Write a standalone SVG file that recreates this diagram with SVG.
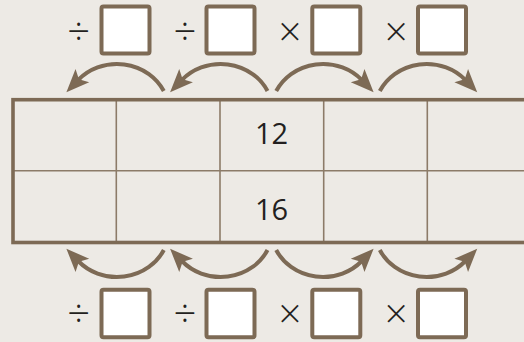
<svg xmlns="http://www.w3.org/2000/svg" width="524" height="342" viewBox="0 0 524 342">
<defs>
<style>
.box{fill:#ffffff;stroke:#7d6a55;stroke-width:4}
.op{font-family:"Open Sans","DejaVu Sans",sans-serif;font-size:40px;font-weight:300;fill:#231f20;text-anchor:middle}
.num{font-family:"Open Sans","DejaVu Sans",sans-serif;font-size:29px;fill:#231f20;text-anchor:middle}
.grid{stroke:#8c7b68;stroke-width:1.6;fill:none}
.frame{stroke:#7d6a55;stroke-width:3.6;fill:none}
.arc{stroke:#7d6a55;stroke-width:4;fill:none;marker-end:url(#ah)}
</style>
<marker id="ah" markerUnits="userSpaceOnUse" markerWidth="30" markerHeight="30" refX="0" refY="0" orient="auto" overflow="visible">
<path d="M17,0 L-6,-9.5 L-1,0 L-6,9.5 Z" fill="#7d6a55"/>
</marker>
</defs>
<rect x="0" y="0" width="524" height="342" fill="#edeae5"/>

<g id="table">
<line class="grid" x1="116.3" y1="99.7" x2="116.3" y2="242.5"/>
<line class="grid" x1="220" y1="99.7" x2="220" y2="242.5"/>
<line class="grid" x1="323.7" y1="99.7" x2="323.7" y2="242.5"/>
<line class="grid" x1="427.3" y1="99.7" x2="427.3" y2="242.5"/>
<line class="grid" x1="13" y1="170.7" x2="540" y2="170.7"/>
<rect class="frame" x="13" y="99.7" width="540" height="142.8"/>
<text class="num" x="271.5" y="144.3">12</text>
<text class="num" x="271.5" y="220">16</text>
</g>

<g id="top-div1"><text class="op" x="78.6" y="45.5">÷</text><rect class="box" x="101.5" y="6.5" width="48" height="47" rx="2"/></g>
<g id="top-div2"><text class="op" x="185" y="45.5">÷</text><rect class="box" x="206.5" y="6.5" width="48" height="47" rx="2"/></g>
<g id="top-mul1"><text class="op" x="289.8" y="45.5">×</text><rect class="box" x="312.3" y="6.5" width="48" height="47" rx="2"/></g>
<g id="top-mul2"><text class="op" x="396.2" y="45.5">×</text><rect class="box" x="418" y="6.5" width="48" height="47" rx="2"/></g>

<g id="bot-div1"><text class="op" x="78.6" y="327.8">÷</text><rect class="box" x="101.5" y="289.7" width="48" height="47.6" rx="2"/></g>
<g id="bot-div2"><text class="op" x="185" y="327.8">÷</text><rect class="box" x="206.5" y="289.7" width="48" height="47.6" rx="2"/></g>
<g id="bot-mul1"><text class="op" x="289.8" y="327.8">×</text><rect class="box" x="312.3" y="289.7" width="48" height="47.6" rx="2"/></g>
<g id="bot-mul2"><text class="op" x="396.2" y="327.8">×</text><rect class="box" x="418" y="289.7" width="48" height="47.6" rx="2"/></g>

<g id="connectors">
<path class="arc" d="M163.8,91 A52,48 0 0 0 78.2,80"/>
<path class="arc" d="M267.5,91 A52,48 0 0 0 181.9,80"/>
<path class="arc" d="M276.2,91 A52,48 0 0 1 361.8,80"/>
<path class="arc" d="M379.8,91 A52,48 0 0 1 465.4,80"/>
<path class="arc" d="M163.8,250 A52,48 0 0 1 78.2,261"/>
<path class="arc" d="M267.5,250 A52,48 0 0 1 181.9,261"/>
<path class="arc" d="M276.2,250 A52,48 0 0 0 361.8,261"/>
<path class="arc" d="M379.8,250 A52,48 0 0 0 465.4,261"/>
</g>
</svg>
